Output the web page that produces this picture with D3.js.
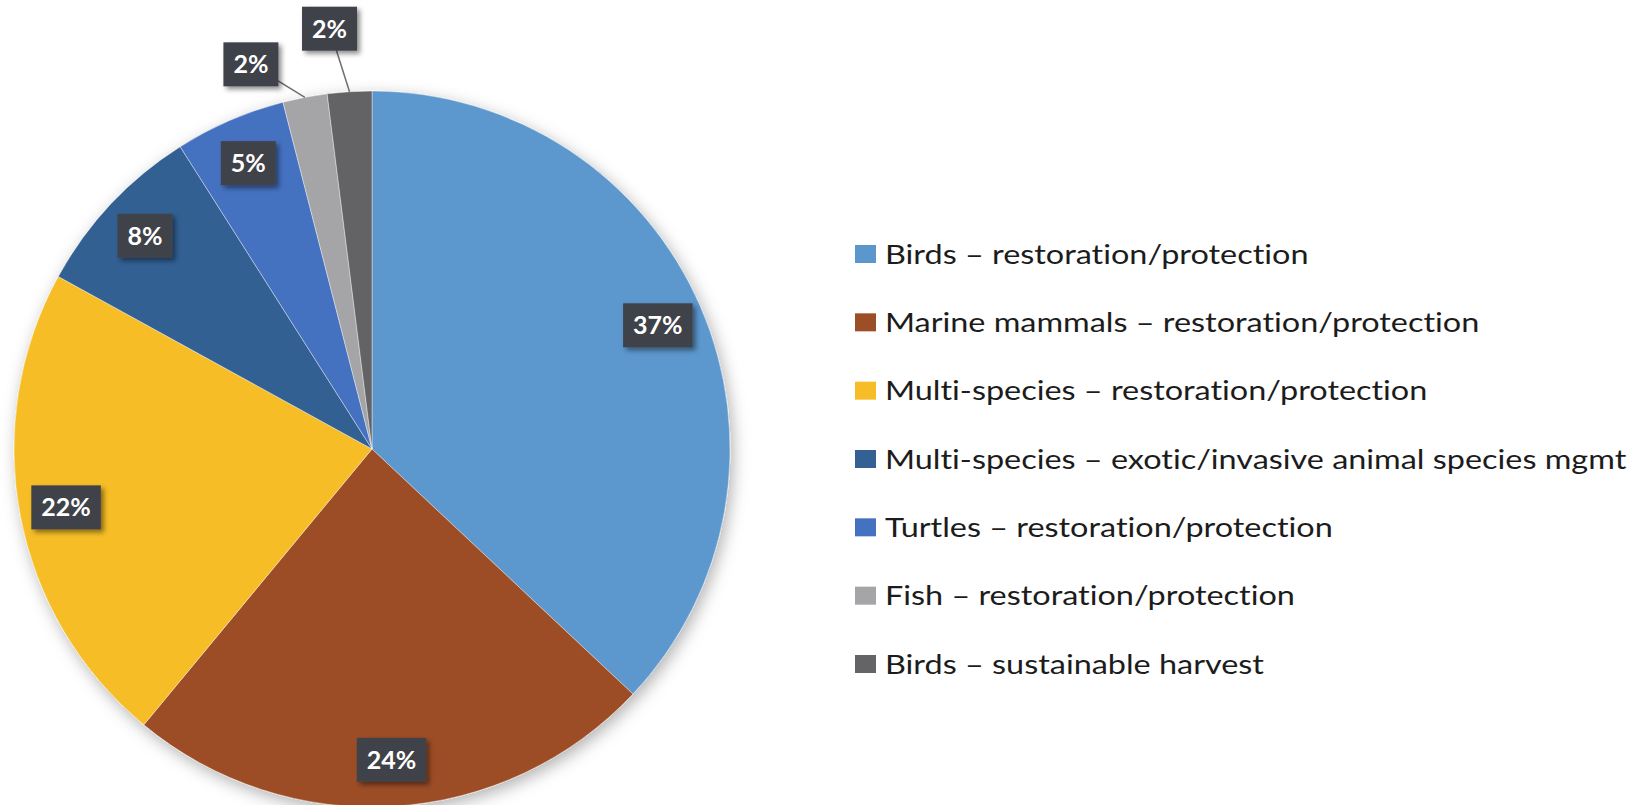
<!DOCTYPE html>
<html>
<head>
<meta charset="utf-8">
<title>Species projects by category</title>
<script src="https://cdn.jsdelivr.net/npm/d3@7/dist/d3.min.js"></script>
<style>
	body { margin: 0; background: #fff; }
	text { font-variant-ligatures: none; }
	.legend text { font-family: Lato, "Open Sans", sans-serif; font-size: 27px; fill: #1c1c1c; }
	.labels text { font-family: Lato, "Open Sans", sans-serif; font-weight: bold; font-size: 25px; fill: #fff; }
</style>
</head>
<body>
<svg id="chart" width="1629" height="805"></svg>
<script>
// data
var categories = [
	'Birds \u2013 restoration/protection',
	'Marine mammals \u2013 restoration/protection',
	'Multi-species \u2013 restoration/protection',
	'Multi-species \u2013 exotic/invasive animal species mgmt',
	'Turtles \u2013 restoration/protection',
	'Fish \u2013 restoration/protection',
	'Birds \u2013 sustainable harvest'
];
var shares = [37, 24, 22, 8, 5, 2, 2];
var colors = ['#5b97cd', '#9c4e26', '#f6bd28', '#336193', '#4571c1', '#a5a5a7', '#646466'];

var svg = d3.select('#chart'),
	cx = 372, cy = 449, r = 358;

var defs = svg.append('defs');
defs.append('filter').attr('id', 'pieShadow')
	.attr('x', '-20%').attr('y', '-20%').attr('width', '140%').attr('height', '140%')
	.append('feDropShadow')
	.attr('dx', 3).attr('dy', 5).attr('stdDeviation', 8)
	.attr('flood-color', '#000').attr('flood-opacity', 0.3);
defs.append('filter').attr('id', 'boxShadow')
	.attr('x', '-30%').attr('y', '-30%').attr('width', '160%').attr('height', '160%')
	.append('feDropShadow')
	.attr('dx', 3).attr('dy', 3).attr('stdDeviation', 2.5)
	.attr('flood-color', '#000').attr('flood-opacity', 0.45);

var pie = d3.pie().sort(null).value(d => d);
var arcs = pie(shares);

var arc = d3.arc().innerRadius(0).outerRadius(r);
var labelArc = d3.arc().innerRadius(r * 0.87).outerRadius(r * 0.87);
var edgeArc = d3.arc().innerRadius(r).outerRadius(r);

var g = svg.append('g').attr('transform', 'translate(' + cx + ',' + cy + ')');

g.append('g')
	.attr('filter', 'url(#pieShadow)')
	.selectAll('path')
	.data(arcs)
	.enter()
	.append('path')
	.attr('d', arc)
	.attr('fill', (d, i) => colors[i])
	.attr('stroke', '#fff')
	.attr('stroke-width', 0.4);

// tiny slices get their labels pulled out with a leader line (like Excel did)
var callout = { 5: [-54, -33], 6: [-20, -63] };

function labelPos(d, i) {
	if (callout[i]) {
		var p = edgeArc.centroid(d);
		return [p[0] + callout[i][0], p[1] + callout[i][1]];
	}
	return labelArc.centroid(d);
}

var labels = g.append('g').attr('class', 'labels');

labels.selectAll('line')
	.data(arcs.filter((d, i) => callout[i]))
	.enter()
	.append('line')
	.attr('x1', d => edgeArc.centroid(d)[0])
	.attr('y1', d => edgeArc.centroid(d)[1])
	.attr('x2', d => labelPos(d, d.index)[0])
	.attr('y2', d => labelPos(d, d.index)[1])
	.attr('stroke', '#6e6e6e')
	.attr('stroke-width', 1.5);

var lab = labels.selectAll('g.lab')
	.data(arcs)
	.enter()
	.append('g')
	.attr('class', 'lab')
	.attr('transform', (d, i) => 'translate(' + labelPos(d, i) + ')');

lab.append('rect')
	.attr('fill', '#404348')
	.attr('filter', 'url(#boxShadow)');

lab.append('text')
	.attr('text-anchor', 'middle')
	.attr('dy', '0.36em')
	.text(d => d.data + '%');

lab.each(function () {
	var t = d3.select(this).select('text').node().getBBox();
	var w = t.width + 20, h = 44;
	d3.select(this).select('rect')
		.attr('x', -w / 2).attr('y', -h / 2)
		.attr('width', w).attr('height', h);
});

// legend
var legendY = d3.scalePoint()
	.domain(categories)
	.range([254, 664]);

var legend = svg.append('g')
	.attr('class', 'legend')
	.attr('transform', 'translate(855,0)');

var item = legend.selectAll('g')
	.data(categories)
	.enter()
	.append('g')
	.attr('transform', d => 'translate(0,' + legendY(d) + ')');

item.append('rect')
	.attr('x', 0).attr('y', -9)
	.attr('width', 21).attr('height', 18)
	.attr('fill', (d, i) => colors[i]);

// the original text is a bit stretched sideways
item.append('text')
	.attr('transform', 'translate(30,0) scale(1.2,1)')
	.attr('dy', '0.36em')
	.text(d => d);
</script>
</body>
</html>
